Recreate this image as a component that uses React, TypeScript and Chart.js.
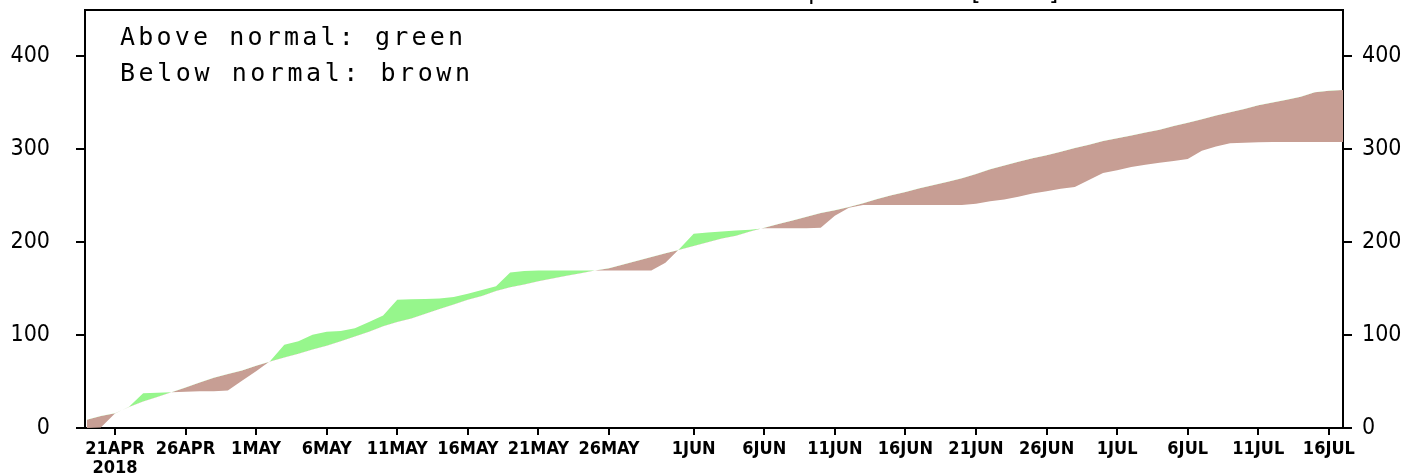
import React, { useEffect, useRef } from 'react';
import { Chart, registerables } from 'chart.js';

Chart.register(...registerables);

// day offsets are counted from 21 APR 2018 (day 0); the series start two days earlier
const START_DAY = -2;

const normalMm = [
  9, 13, 16, 22.5, 28.5, 33.5, 38.5, 43.5, 49, 54, 58, 62, 67, 71.5, 76, 80, 84.5, 88.5, 93.5, 98.5,
  103.5, 109.5, 114, 118, 123, 128, 133, 138, 142, 147.5, 151.5, 154.5, 158, 161, 164, 166.5, 169.5, 172, 176, 180,
  184, 188, 192, 196, 200, 204, 207, 211.5, 215.5, 219.5, 223.5, 227.5, 231.5, 234.5, 238, 242, 246.5, 250.5, 254, 258,
  261.5, 265, 269, 273.5, 278.5, 282.5, 286.5, 290.5, 293.5, 297.5, 301.5, 305, 309, 312, 315, 318, 321, 325, 328.5, 332.5,
  336.5, 340, 343.5, 347.5, 350.5, 353.5, 356.5, 361.5, 363, 364,
];

const observedMm = [
  0, 0.5, 15.5, 23, 37.5, 38, 38.5, 39, 39.5, 39.5, 40.5, 51, 61, 72, 89.5, 93.5, 100.5, 103.5, 104.5, 107.5,
  114, 121, 138, 138.5, 139, 139.5, 141, 144.5, 148.5, 152.5, 167.5, 169, 169.5, 169.5, 169.5, 169.5, 169.5, 169.5, 169.5, 169.5,
  169.5, 178, 193, 209, 210.5, 211.5, 212.5, 213.5, 215, 215, 215, 215, 215.5, 228.5, 237, 240, 240, 240, 240, 240,
  240, 240, 240, 241.5, 244, 246, 249, 252.5, 255, 257.5, 259.5, 267, 274.5, 277.5, 281, 283.5, 285.5, 287.5, 289.5, 298.5,
  303, 306.5, 307, 307.5, 308, 308, 308, 308, 308, 308,
];

const tickDays = [0, 5, 10, 15, 20, 25, 30, 35, 41, 46, 51, 56, 61, 66, 71, 76, 81, 86];
const tickLabels = [
  '21APR', '26APR', '1MAY', '6MAY', '11MAY', '16MAY', '21MAY', '26MAY', '1JUN',
  '6JUN', '11JUN', '16JUN', '21JUN', '26JUN', '1JUL', '6JUL', '11JUL', '16JUL',
];
const yearLabel = '2018';
const yTicks = [0, 100, 200, 300, 400];
const noteLines = ['Above normal: green', 'Below normal: brown'];
// title lies above the picture; only the descenders of these glyphs are visible
const titleFragments = ['p', '[mm]'];

const GREEN = 'rgb(150,246,140)';
const BROWN = 'rgb(199,158,148)';
const NARROW = '"DejaVu Sans Condensed", "DejaVu Sans", sans-serif';

const framePlugin = {
  id: 'frame',
  afterDraw(chart: any) {
    const { ctx, chartArea } = chart;
    ctx.save();
    ctx.strokeStyle = '#000';
    ctx.lineWidth = 2;
    ctx.beginPath();
    ctx.moveTo(chartArea.left - 1, chartArea.top);
    ctx.lineTo(chartArea.right + 1, chartArea.top);
    ctx.stroke();
    // clipped title (only descenders show at the very top)
    ctx.fillStyle = '#000';
    ctx.font = '24px "DejaVu Sans Mono", monospace';
    ctx.textBaseline = 'alphabetic';
    ctx.textAlign = 'left';
    (ctx as any).letterSpacing = '12px';
    ctx.fillText(titleFragments[0], 808, -1);
    ctx.fillText(titleFragments[1], 968, -0.5);
    // note text
    ctx.font = '25px "DejaVu Sans Mono", monospace';
    const targets = [343, 350];
    noteLines.forEach((line, i) => {
      (ctx as any).letterSpacing = '0px';
      const w0 = ctx.measureText(line).width;
      const ls = (targets[i] - w0) / (line.length - 1);
      (ctx as any).letterSpacing = ls + 'px';
      ctx.fillText(line, chartArea.left + 35, chartArea.top + 35 + i * 36);
    });
    (ctx as any).letterSpacing = '0px';
    ctx.restore();
  },
};

export default function App() {
  const ref = useRef<HTMLCanvasElement | null>(null);

  useEffect(() => {
    document.body.style.margin = '0';
    const canvas = ref.current!;
    const normalPts = normalMm.map((v, i) => ({ x: START_DAY + i, y: v }));
    const obsPts = observedMm.map((v, i) => ({ x: START_DAY + i, y: v }));

    const yAxis = (position: 'left' | 'right', width: number, padding: number) => ({
      type: 'linear' as const,
      position,
      min: 0,
      max: 450,
      afterBuildTicks: (s: any) => {
        s.ticks = yTicks.map((v) => ({ value: v }));
      },
      ticks: {
        color: '#000',
        padding,
        font: { family: NARROW, size: 23 },
        callback: (v: any) => String(v),
      },
      grid: { drawOnChartArea: false, drawTicks: true, tickLength: 9, color: '#000', lineWidth: 2 },
      border: { display: true, color: '#000', width: 2 },
      afterFit: (s: any) => {
        s.width = width;
        s.paddingTop = 0;
        s.paddingBottom = 0;
      },
    });

    const chart = new Chart(canvas, {
      type: 'line',
      data: {
        datasets: [
          {
            label: 'Normal',
            data: normalPts,
            borderColor: 'rgba(0,0,0,0)',
            borderWidth: 0,
            pointRadius: 0,
            fill: false,
            tension: 0,
          },
          {
            label: 'Observed',
            data: obsPts,
            borderColor: 'rgba(0,0,0,0)',
            backgroundColor: GREEN,
            borderWidth: 0,
            pointRadius: 0,
            tension: 0,
            fill: { target: 0, above: GREEN, below: BROWN },
          },
        ],
      },
      options: {
        responsive: false,
        animation: false,
        layout: { padding: { top: 10, left: 0, right: 0, bottom: 0 } },
        plugins: {
          legend: { display: false },
          tooltip: { enabled: false },
          title: { display: false },
        },
        scales: {
          x: {
            type: 'linear',
            position: 'bottom',
            min: -2.12,
            max: 87,
            afterBuildTicks: (s: any) => {
              s.ticks = tickDays.map((v) => ({ value: v }));
            },
            ticks: {
              autoSkip: false,
              maxRotation: 0,
              minRotation: 0,
              color: '#000',
              padding: 4,
              font: { family: NARROW, size: 18, weight: 'bold', lineHeight: 1.1 },
              callback: (v: any) => {
                const idx = tickDays.indexOf(Number(v));
                if (idx === 0) return [tickLabels[0], yearLabel];
                return idx >= 0 ? tickLabels[idx] : '';
              },
            },
            grid: { drawOnChartArea: false, drawTicks: true, tickLength: 7, color: '#000', lineWidth: 2 },
            border: { display: true, color: '#000', width: 2 },
            afterFit: (s: any) => {
              s.height = 48;
              s.paddingLeft = 0;
              s.paddingRight = 0;
            },
          },
          y: yAxis('left', 85, 26),
          y2: yAxis('right', 78, 10),
        },
      },
      plugins: [framePlugin],
    });

    return () => chart.destroy();
  }, []);

  return (
    <div style={{ width: 1421, height: 476, background: '#fff' }}>
      <canvas ref={ref} width={1421} height={476} style={{ display: 'block', width: 1421, height: 476 }} />
    </div>
  );
}
